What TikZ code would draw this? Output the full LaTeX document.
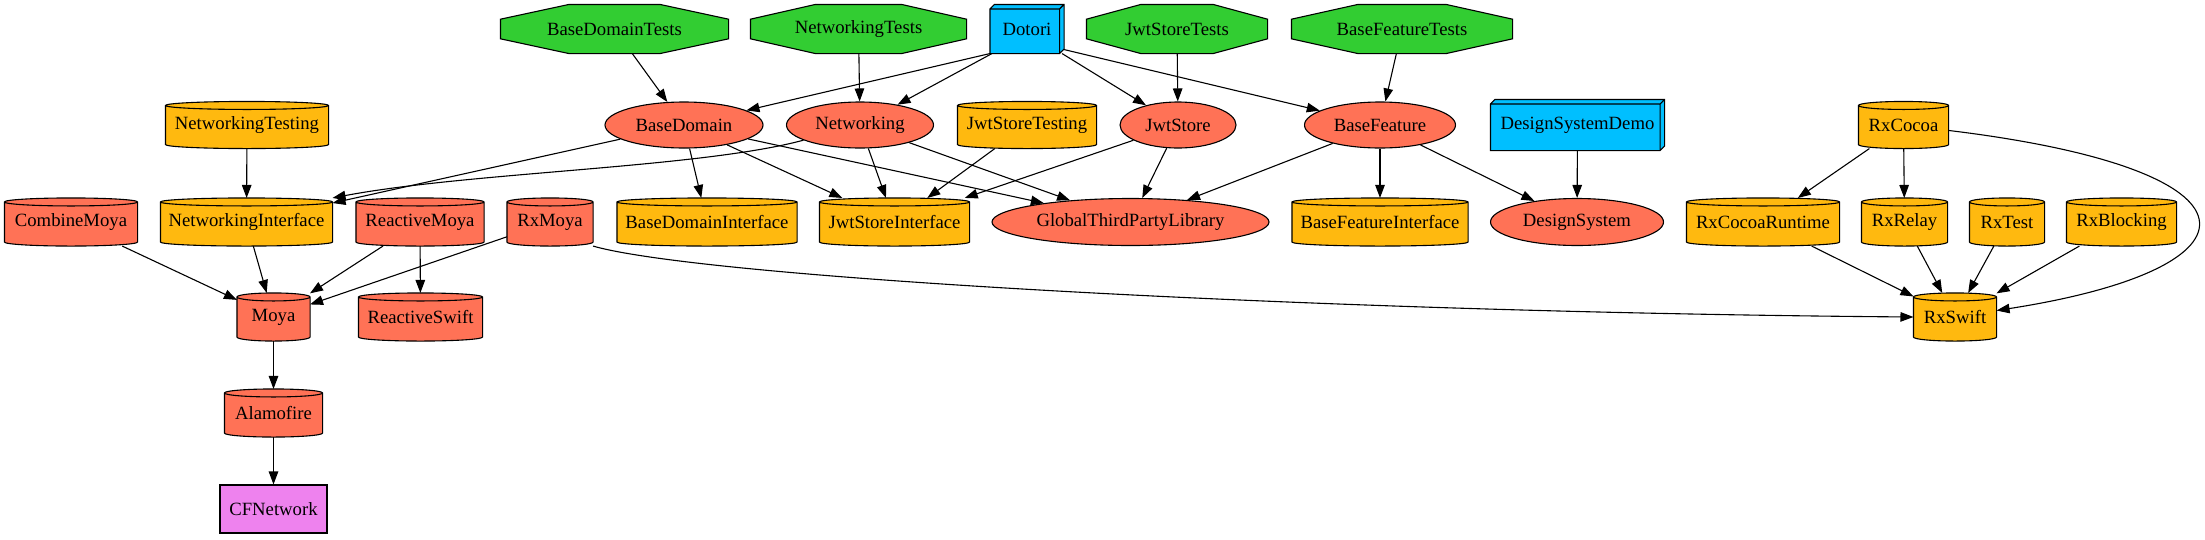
\documentclass[tikz,border=0pt]{standalone}
\usepackage{fontspec}
\setmainfont{Liberation Serif}
\usetikzlibrary{shapes.geometric,arrows.meta,backgrounds,calc}

\definecolor{testgreen}{HTML}{32CD32}
\definecolor{appblue}{HTML}{00BFFF}
\definecolor{modcoral}{HTML}{FF7256}
\definecolor{libgold}{HTML}{FFB90F}
\definecolor{sysviolet}{HTML}{EE82EE}

\begin{document}
\begin{tikzpicture}[%
    x=1pt, y=1pt,                              % one unit per pixel
    >={Triangle[length=13pt,width=9.5pt]},     % graphviz-like heads
    line width=1.1pt,
    ]
% -------------------------------------------------
% Box styles; octagons, cylinders and 3d boxes are
% drawn on the background from the node anchors
\tikzset{
  base/.style={inner sep=0pt, font={\fontsize{18.7}{20}\selectfont}, minimum height=47pt},
  tests/.style={base, minimum height=48pt},
  app/.style={base, minimum height=48pt},
  pod/.style={base},
  module/.style={base, ellipse, draw, fill=modcoral},
  sdk/.style={base, rectangle, draw, fill=sysviolet, minimum height=48pt},
  shell/.style={draw, line width=1.1pt},
  dep/.style={->, draw},
}
\useasboundingbox (0,0) rectangle (2205,-539);
% -------------------------------------------------
% Top row: test targets and the app
\node [tests, minimum width=227pt] (bdt) at (614.5,-29) {BaseDomainTests};
\node [tests, minimum width=215pt] (nwt) at (858.5,-29) {NetworkingTests};
\node [app, minimum width=73pt] (dotori) at (1027,-29) {Dotori};
\node [tests, minimum width=180pt] (jst) at (1177,-29) {JwtStoreTests};
\node [tests, minimum width=220pt] (bft) at (1402,-29) {BaseFeatureTests};

% Second row
\node [pod, minimum width=162pt, minimum height=46pt] (nwtesting) at (247,-125) {NetworkingTesting};
\node [module, minimum width=158pt, minimum height=46pt] (bd) at (684,-125) {BaseDomain};
\node [module, minimum width=147pt, minimum height=46pt] (nw) at (860,-125) {Networking};
\node [pod, minimum width=138pt, minimum height=46pt] (jsting) at (1027,-125) {JwtStoreTesting};
\node [module, minimum width=116pt, minimum height=46pt] (js) at (1178,-125) {JwtStore};
\node [module, minimum width=151pt, minimum height=46pt] (bf) at (1380,-125) {BaseFeature};
\node [app, minimum width=173pt, minimum height=50pt] (dsd) at (1577.5,-125) {DesignSystemDemo};
\node [pod, minimum width=89pt, minimum height=46pt] (rxcocoa) at (1903.5,-125) {RxCocoa};

% Third row
\node [pod, minimum width=132pt] (combine) at (71,-222) {CombineMoya};
\node [pod, minimum width=171pt] (nwi) at (246.5,-222) {NetworkingInterface};
\node [pod, minimum width=127pt] (reactive) at (420,-222) {ReactiveMoya};
\node [pod, minimum width=85pt] (rxmoya) at (550,-222) {RxMoya};
\node [pod, minimum width=179pt] (bdi) at (707,-222) {BaseDomainInterface};
\node [pod, minimum width=149pt] (jsi) at (894.5,-222) {JwtStoreInterface};
\node [module, minimum width=277pt] (gtpl) at (1130.5,-222) {GlobalThirdPartyLibrary};
\node [pod, minimum width=175pt] (bfi) at (1380,-222) {BaseFeatureInterface};
\node [module, minimum width=173pt] (ds) at (1577,-222) {DesignSystem};
\node [pod, minimum width=152pt] (rxcr) at (1763,-222) {RxCocoaRuntime};
\node [pod, minimum width=85pt] (rxrelay) at (1904.5,-222) {RxRelay};
\node [pod, minimum width=74pt] (rxtest) at (2007,-222) {RxTest};
\node [pod, minimum width=109pt] (rxblocking) at (2121.5,-222) {RxBlocking};

% Lower rows
\node [pod, minimum width=72pt] (moya) at (273.5,-317) {Moya};
\node [pod, minimum width=123pt] (rswift) at (420.5,-317) {ReactiveSwift};
\node [pod, minimum width=82pt] (rxswift) at (1955,-317) {RxSwift};
\node [pod, minimum width=97pt] (alamofire) at (273.5,-413) {Alamofire};
\node [sdk, minimum width=107pt] (cfnetwork) at (273.5,-509) {CFNetwork};

% -------------------------------------------------
% Shapes behind the plain nodes
\begin{scope}[on background layer]
\foreach \nd in {bdt,nwt,jst,bft}
  \filldraw [shell, fill=testgreen]
    ($(\nd.north west)!.3!(\nd.north east)$) -- ($(\nd.north west)!.7!(\nd.north east)$)
    -- ($(\nd.north east)!.3!(\nd.south east)$) -- ($(\nd.north east)!.7!(\nd.south east)$)
    -- ($(\nd.south west)!.7!(\nd.south east)$) -- ($(\nd.south west)!.3!(\nd.south east)$)
    -- ($(\nd.north west)!.7!(\nd.south west)$) -- ($(\nd.north west)!.3!(\nd.south west)$)
    -- cycle;
\foreach \nd/\col in {nwtesting/libgold, jsting/libgold, rxcocoa/libgold, nwi/libgold,
    bdi/libgold, jsi/libgold, bfi/libgold, rxcr/libgold, rxrelay/libgold, rxtest/libgold,
    rxblocking/libgold, rxswift/libgold, combine/modcoral, reactive/modcoral,
    rxmoya/modcoral, moya/modcoral, rswift/modcoral, alamofire/modcoral}
  \filldraw [shell, fill=\col] let \p1=(\nd.north west), \p2=(\nd.south east), \n1={(\x2-\x1)/2} in
    (\x1,\y1-4pt) -- (\x1,\y2+4pt) arc [start angle=180, end angle=360, x radius=\n1, y radius=4pt]
    -- (\x2,\y1-4pt) arc [start angle=0, end angle=180, x radius=\n1, y radius=4pt] -- cycle
    (\x1,\y1-4pt) arc [start angle=180, end angle=360, x radius=\n1, y radius=4pt];
\foreach \nd in {dotori,dsd}
  \filldraw [shell, fill=appblue] let \p1=(\nd.north west), \p2=(\nd.south east) in
    (\x1,\y2) -- (\x1,\y1-4.5pt) -- (\x1+4.5pt,\y1) -- (\x2,\y1) -- (\x2,\y2+4.5pt)
    -- (\x2-4.5pt,\y2) -- cycle
    (\x1,\y1-4.5pt) -- (\x2-4.5pt,\y1-4.5pt) -- (\x2-4.5pt,\y2)
    (\x2-4.5pt,\y1-4.5pt) -- (\x2,\y1);
\end{scope}

% -------------------------------------------------
% Dependencies
\draw [dep] (bdt) -- (bd);
\draw [dep] (nwt) -- (nw);
\draw [dep] (jst) -- (js);
\draw [dep] (bft) -- (bf);
\draw [dep] (dotori.south west) -- (bd);
\draw [dep] ([xshift=2pt]dotori.south west) -- (nw);
\draw [dep] ([xshift=-2pt]dotori.south east) -- (js);
\draw [dep] ([yshift=4pt]dotori.south east) -- (bf);

\draw [dep] (nwtesting) -- (nwi);
\draw [dep] (bd) -- (nwi);
\draw [dep] (bd) -- (bdi);
\draw [dep] (bd) -- (jsi);
\draw [dep] (bd) -- (gtpl);
\draw [dep] (nw) .. controls (700,-168) and (470,-172) .. (nwi.north east);
\draw [dep] (nw) -- (jsi);
\draw [dep] (nw) -- (gtpl);
\draw [dep] (jsting) -- (jsi);
\draw [dep] (js) -- (jsi);
\draw [dep] (js) -- (gtpl);
\draw [dep] (bf) -- (gtpl);
\draw [dep] (bf) -- (bfi);
\draw [dep] (bf) -- (ds);
\draw [dep] (dsd) -- (ds);

\draw [dep] (rxcocoa) -- (rxcr);
\draw [dep] (rxcocoa) -- (rxrelay);
\draw [dep] (rxcocoa) .. controls (2275,-170) and (2270,-268) .. (rxswift);
\draw [dep] (rxcr) -- (rxswift);
\draw [dep] (rxrelay) -- (rxswift);
\draw [dep] (rxtest) -- (rxswift);
\draw [dep] (rxblocking) -- (rxswift);

\draw [dep] (combine) -- (moya);
\draw [dep] (nwi) -- (moya);
\draw [dep] (reactive) -- (moya);
\draw [dep] (reactive) -- (rswift);
\draw [dep] (rxmoya) -- (moya);
\draw [dep] (rxmoya.south east) .. controls (700,-277) and (1300,-312) .. (rxswift.west);
\draw [dep] (moya) -- (alamofire);
\draw [dep] (alamofire) -- (cfnetwork);
% -------------------------------------------------
\end{tikzpicture}
\end{document}
